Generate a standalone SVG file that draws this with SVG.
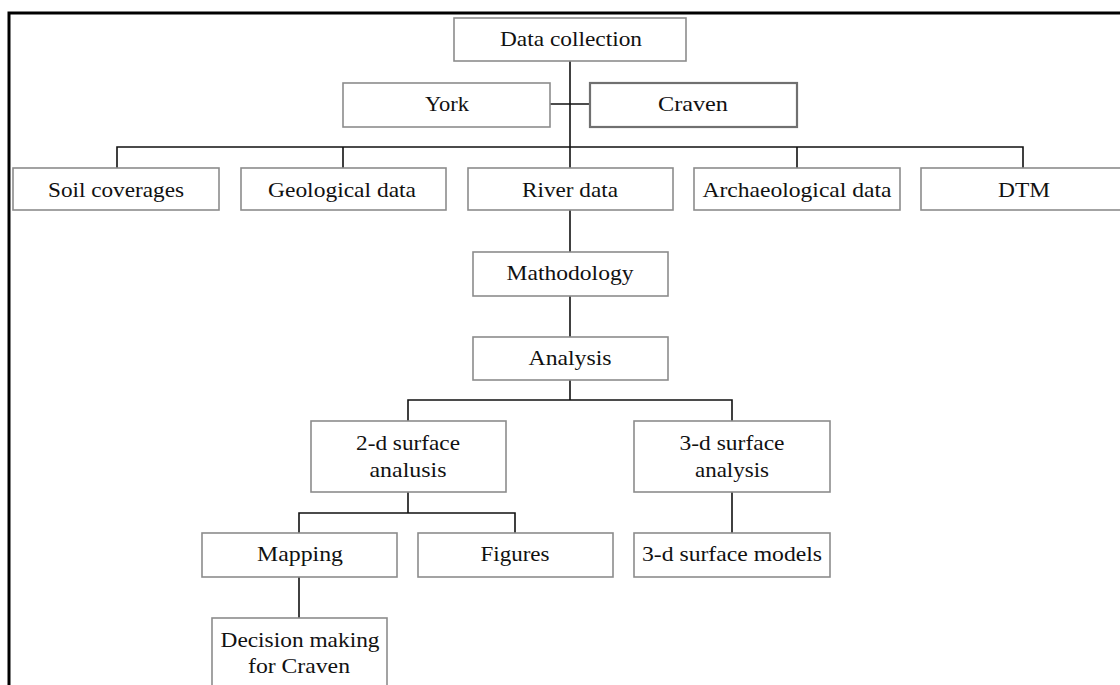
<svg xmlns="http://www.w3.org/2000/svg" width="1120" height="685" viewBox="0 0 1120 685">
<style>
.box{fill:#fff;stroke:#8c8c8c;stroke-width:1.6}
.box2{fill:#fff;stroke:#707070;stroke-width:2.2}
.t{font-family:"Liberation Serif","Times New Roman",serif;font-size:21px;fill:#111;text-anchor:middle}
.c{fill:none;stroke:#111;stroke-width:1.6}
.frame{fill:none;stroke:#000;stroke-width:3}
</style>
<rect width="1120" height="685" fill="#fff"/>
<path class="frame" d="M9,685 V13 H1120"/>
<g id="connectors">
<path class="c" d="M570,61 V147"/>
<path class="c" d="M550,104 H590"/>
<path class="c" d="M117,168 V147 H1023 V168"/>
<path class="c" d="M343,147 V168 M797,147 V168"/>
<path class="c" d="M570,147 V168"/>
<path class="c" d="M570,210 V252"/>
<path class="c" d="M570,296 V337"/>
<path class="c" d="M570,380 V400 M408,421 V400 H732 V421"/>
<path class="c" d="M408,492 V513 M299,533 V513 H515 V533"/>
<path class="c" d="M732,492 V533"/>
<path class="c" d="M299,577 V618"/>
</g>
<g id="data-collection"><rect class="box" x="454" y="18" width="232" height="43"/><text class="t" x="571" y="46" textLength="142" lengthAdjust="spacingAndGlyphs">Data collection</text></g>
<g id="york"><rect class="box" x="343" y="83" width="207" height="44"/><text class="t" x="447" y="111" textLength="44" lengthAdjust="spacingAndGlyphs">York</text></g>
<g id="craven"><rect class="box2" x="590" y="83" width="207" height="44"/><text class="t" x="693" y="111" textLength="70" lengthAdjust="spacingAndGlyphs">Craven</text></g>
<g id="soil"><rect class="box" x="13" y="168" width="206" height="42"/><text class="t" x="116" y="197" textLength="136" lengthAdjust="spacingAndGlyphs">Soil coverages</text></g>
<g id="geological"><rect class="box" x="241" y="168" width="205" height="42"/><text class="t" x="342" y="197" textLength="148" lengthAdjust="spacingAndGlyphs">Geological data</text></g>
<g id="river"><rect class="box" x="468" y="168" width="205" height="42"/><text class="t" x="570" y="197" textLength="96" lengthAdjust="spacingAndGlyphs">River data</text></g>
<g id="archaeological"><rect class="box" x="694" y="168" width="206" height="42"/><text class="t" x="797" y="197" textLength="189" lengthAdjust="spacingAndGlyphs">Archaeological data</text></g>
<g id="dtm"><rect class="box" x="921" y="168" width="206" height="42"/><text class="t" x="1024" y="197" textLength="52" lengthAdjust="spacingAndGlyphs">DTM</text></g>
<g id="mathodology"><rect class="box" x="473" y="252" width="195" height="44"/><text class="t" x="570" y="280" textLength="127" lengthAdjust="spacingAndGlyphs">Mathodology</text></g>
<g id="analysis"><rect class="box" x="473" y="337" width="195" height="43"/><text class="t" x="570" y="365" textLength="83" lengthAdjust="spacingAndGlyphs">Analysis</text></g>
<g id="surface-2d"><rect class="box" x="311" y="421" width="195" height="71"/><text class="t" x="408" y="450" textLength="104" lengthAdjust="spacingAndGlyphs">2-d surface</text><text class="t" x="408" y="477" textLength="77" lengthAdjust="spacingAndGlyphs">analusis</text></g>
<g id="surface-3d"><rect class="box" x="634" y="421" width="196" height="71"/><text class="t" x="732" y="450" textLength="105" lengthAdjust="spacingAndGlyphs">3-d surface</text><text class="t" x="732" y="477" textLength="74" lengthAdjust="spacingAndGlyphs">analysis</text></g>
<g id="mapping"><rect class="box" x="202" y="533" width="195" height="44"/><text class="t" x="300" y="561" textLength="86" lengthAdjust="spacingAndGlyphs">Mapping</text></g>
<g id="figures"><rect class="box" x="418" y="533" width="195" height="44"/><text class="t" x="515" y="561" textLength="69" lengthAdjust="spacingAndGlyphs">Figures</text></g>
<g id="models-3d"><rect class="box" x="634" y="533" width="196" height="44"/><text class="t" x="732" y="561" textLength="180" lengthAdjust="spacingAndGlyphs">3-d surface models</text></g>
<g id="decision"><rect class="box" x="212" y="618" width="175" height="80"/><text class="t" x="300" y="647" textLength="159" lengthAdjust="spacingAndGlyphs">Decision making</text><text class="t" x="299" y="673" textLength="102" lengthAdjust="spacingAndGlyphs">for Craven</text></g>
</svg>
